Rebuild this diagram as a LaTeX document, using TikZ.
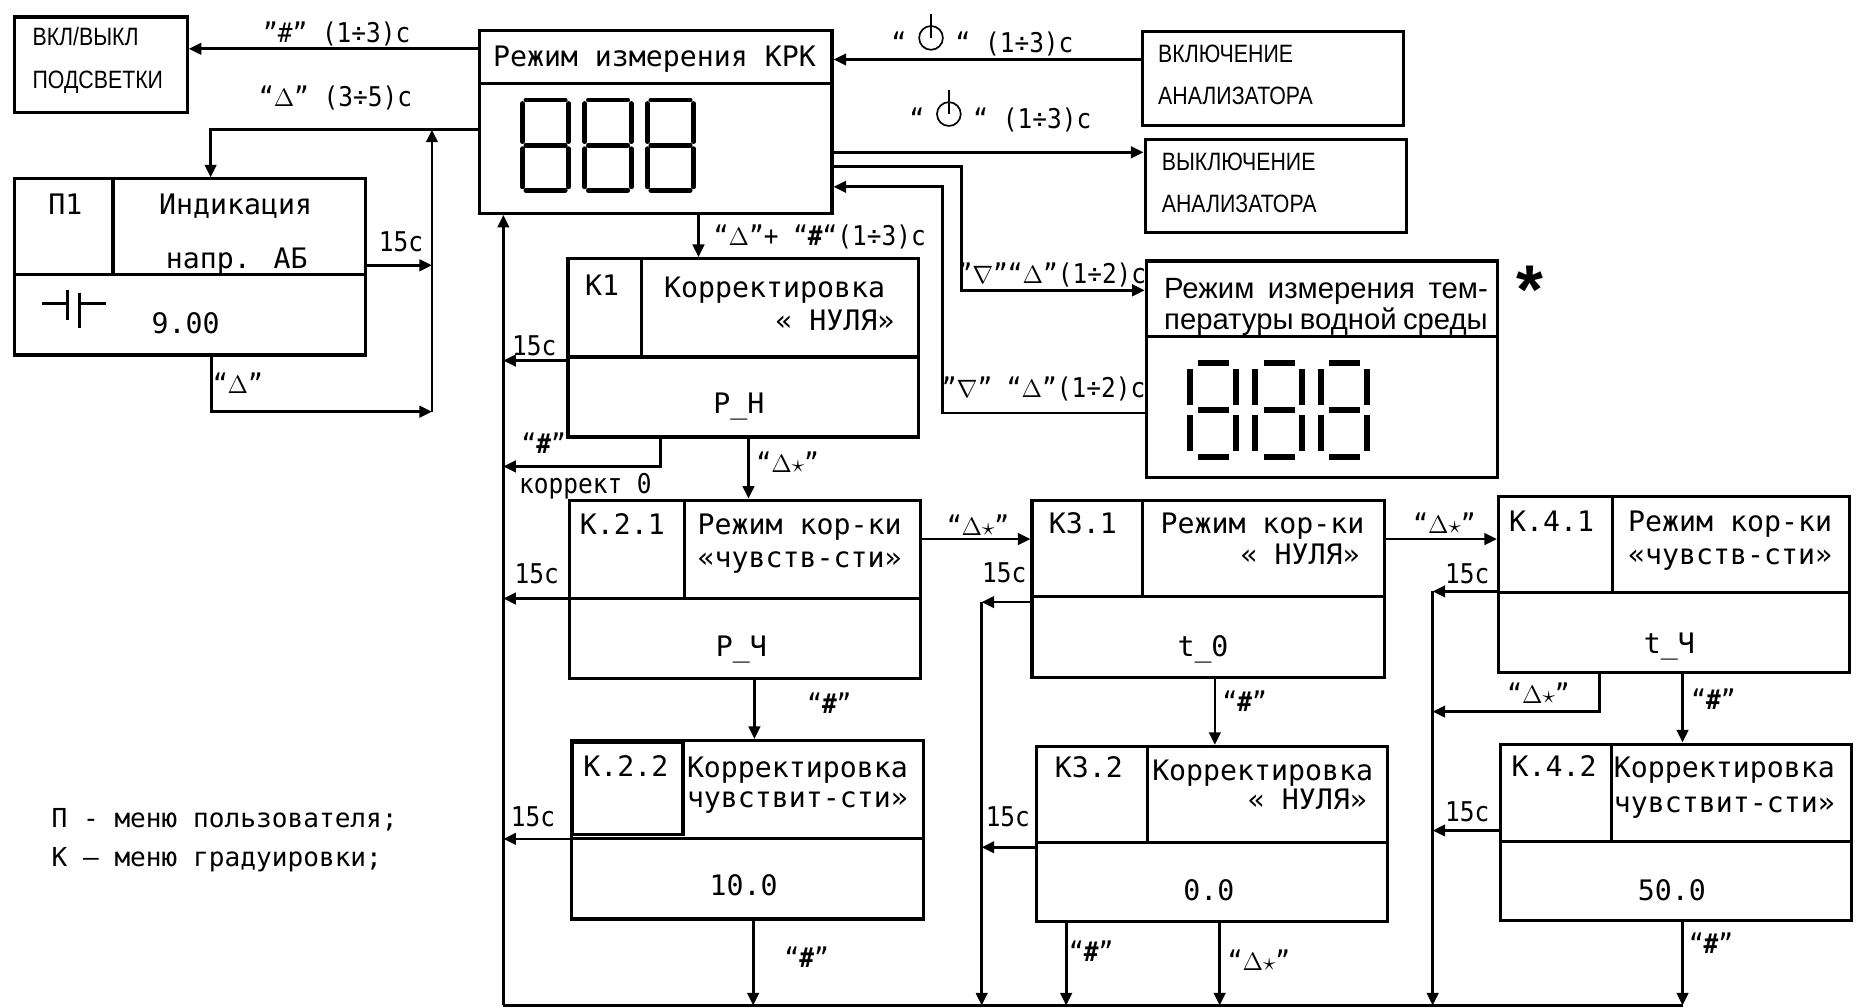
\documentclass[tikz,border=0pt]{standalone}
\usepackage{fontspec}
\setmainfont{DejaVu Sans Mono}
\newfontfamily\narrowfont[FakeStretch=0.85]{Liberation Sans}
\newfontfamily\lblfont[FakeStretch=0.9]{DejaVu Sans Mono}
\newfontfamily\starfont{Liberation Sans}
\usetikzlibrary{arrows.meta, positioning, calc}

\newcommand{\pwrsign}{\tikz[baseline=0pt, x=1cm, y=1cm, line width=0.8pt]{\draw (0,0.25) circle (0.2); \draw (0,0.25) -- (0,0.66);}}

\tikzset{
  menubox/.style={draw, line width=1.5pt, inner sep=0pt, anchor=north west},
  divline/.style={line width=1.5pt},
  wire/.style={line width=1.3pt},
  txt/.style={inner sep=0pt, text height=9.8pt, text depth=0pt, font=\fontsize{13.5}{16}\selectfont},
  lbl/.style={inner sep=0pt, text height=9.5pt, text depth=0pt, font=\lblfont\fontsize{13}{15}\selectfont},
  narrow/.style={inner sep=0pt, anchor=west, text height=8.6pt, text depth=0pt, font=\narrowfont\fontsize{12}{14}\selectfont},
  tempname/.style={inner sep=0pt, anchor=west, text height=10pt, text depth=0pt, font=\starfont\fontsize{14}{16}\selectfont},
  lcd/.style={line width=2.3pt, line cap=round},
  lcdtemp/.style={line width=2.8pt},
  bigdigit/.pic={
    \draw[lcd] (3,0) -- (36,0) (39,3) -- (39,35) (39,41) -- (39,73) (3,76) -- (36,76)
               (0,41) -- (0,73) (0,3) -- (0,35) (3,38) -- (36,38);
  },
  tempdigit/.pic={
    \draw[lcdtemp] (7,0) -- (33,0) (39,5) -- (39,35) (39,44) -- (39,74) (7,79) -- (33,79)
                   (0,44) -- (0,74) (0,5) -- (0,35) (7,39.5) -- (33,39.5);
  },
}

\begin{document}
\begin{tikzpicture}[x=0.02cm, y=-0.02cm, >={Triangle[length=6pt,width=5.5pt]}]
  \useasboundingbox (0,0) rectangle (1564,847.1);

  % main mode
  \node[menubox, minimum width=5.92cm, minimum height=3.08cm] (main) at (402,24) {};
  \draw[divline] (main.west |- 0,70) -- (main.east |- 0,70);
  \node[txt] (maintitle) at (550,47) {Режим измерения КРК};
  \foreach \i in {0,1,2} \pic at ({439+52.5*\i},84) {bigdigit};

  % backlight
  \node[menubox, minimum width=2.9cm, minimum height=1.6cm] (vkl) at (11,13) {};
  \node[narrow] (vkltop) at (27,31) {ВКЛ/ВЫКЛ};
  \node[narrow] (vklbot) at (27,67) {ПОДСВЕТКИ};

  % P1
  \node[menubox, minimum width=5.9cm, minimum height=2.96cm] (p1) at (11,149) {};
  \draw[divline] (p1.west |- 0,231) -- (p1.east |- 0,231);
  \draw[divline] (p1.north -| 95,0) -- (95,231);
  \node[txt] (p1code) at (55,172) {П1};
  \node[txt] (p1name) at (198,172) {Индикация};
  \node[txt] (p1sub) at (199,217) {напр. АБ};
  \node[txt] (p1val) at (156,272) {9.00};
  \draw[wire] (35,255) -- (57,255) (57,244) -- (57,269) (67,246) -- (67,276) (67,255) -- (89,255);

  % on / off
  \node[menubox, minimum width=4.38cm, minimum height=1.58cm] (on) at (959,25) {};
  \node[narrow] (ontop) at (973,45) {ВКЛЮЧЕНИЕ};
  \node[narrow] (onbot) at (973,80) {АНАЛИЗАТОРА};
  \node[menubox, minimum width=4.4cm, minimum height=1.56cm] (off) at (961,116) {};
  \node[narrow] (offtop) at (976,136) {ВЫКЛЮЧЕНИЕ};
  \node[narrow] (offbot) at (976,171) {АНАЛИЗАТОРА};

  % temperature mode
  \node[menubox, minimum width=5.9cm, minimum height=3.64cm] (temp) at (962,218) {};
  \draw[divline] (temp.west |- 0,283) -- (temp.east |- 0,283);
  \node[tempname] (temptop) at (978,242) {\makebox[5.44cm][s]{Режим измерения тем-}};
  \node[tempname] (tempbot) at (978,268) {\makebox[5.44cm][s]{пературы водной среды}};
  \foreach \i in {0,1,2} \pic at ({1000+55*\i},305) {tempdigit};
  \node[inner sep=0pt, anchor=north, font=\starfont\fontsize{33}{33}\bfseries] (star) at (1286,223) {*};

  % K1
  \node[menubox, minimum width=5.9cm, minimum height=3.0cm] (k1) at (476,216) {};
  \draw[divline] (k1.west |- 0,300) -- (k1.east |- 0,300);
  \draw[divline] (k1.north -| 539,0) -- (539,300);
  \node[txt] (k1code) at (506,240) {К1};
  \node[txt] (k1name) at (651,241) {Корректировка};
  \node[txt, anchor=east] (k1sub) at (752,269) {« НУЛЯ»};
  \node[txt] (k1val) at (621,339) {P\_H};

  % K2.1
  \node[menubox, minimum width=5.9cm, minimum height=3.0cm] (k21) at (477,419) {};
  \draw[divline] (k21.west |- 0,503) -- (k21.east |- 0,503);
  \draw[divline] (k21.north -| 575,0) -- (575,503);
  \node[txt] (k21code) at (523,441) {К.2.1};
  \node[txt] (k21name) at (672,441) {Режим кор-ки};
  \node[txt] (k21sub) at (672,468) {«чувств-сти»};
  \node[txt] (k21val) at (623,543) {P\_Ч};

  % K2.2
  \node[menubox, minimum width=5.92cm, minimum height=3.0cm] (k22) at (479,621) {};
  \draw[divline] (k22.west |- 0,705) -- (k22.east |- 0,705);
  \draw[divline] (481,624) rectangle (574,701);
  \node[txt] (k22code) at (526,644) {К.2.2};
  \node[txt, anchor=west] (k22name) at (577,645) {Корректировка};
  \node[txt, anchor=west] (k22sub) at (577,670) {чувствит-сти»};
  \node[txt] (k22val) at (625,744) {10.0};

  % K3.1
  \node[menubox, minimum width=5.92cm, minimum height=2.98cm] (k31) at (866,419) {};
  \draw[divline] (k31.west |- 0,501) -- (k31.east |- 0,501);
  \draw[divline] (k31.north -| 960,0) -- (960,501);
  \node[txt] (k31code) at (910,440) {К3.1};
  \node[txt] (k31name) at (1061,440) {Режим кор-ки};
  \node[txt, anchor=east] (k31sub) at (1143,466) {« НУЛЯ»};
  \node[txt] (k31val) at (1011,543) {t\_0};

  % K3.2
  \node[menubox, minimum width=5.9cm, minimum height=2.94cm] (k32) at (870,626) {};
  \draw[divline] (k32.west |- 0,708) -- (k32.east |- 0,708);
  \draw[divline] (k32.north -| 964,0) -- (964,708);
  \node[txt] (k32code) at (915,645) {К3.2};
  \node[txt, anchor=west] (k32name) at (968,647) {Корректировка};
  \node[txt, anchor=east] (k32sub) at (1149,672) {« НУЛЯ»};
  \node[txt] (k32val) at (1016,748) {0.0};

  % K4.1
  \node[menubox, minimum width=5.9cm, minimum height=2.96cm] (k41) at (1258,416) {};
  \draw[divline] (k41.west |- 0,498) -- (k41.east |- 0,498);
  \draw[divline] (k41.north -| 1355,0) -- (1355,498);
  \node[txt] (k41code) at (1304,438) {К.4.1};
  \node[txt] (k41name) at (1454,438) {Режим кор-ки};
  \node[txt] (k41sub) at (1454,466) {«чувств-сти»};
  \node[txt] (k41val) at (1403,541) {t\_Ч};

  % K4.2
  \node[menubox, minimum width=5.9cm, minimum height=2.96cm] (k42) at (1260,624) {};
  \draw[divline] (k42.west |- 0,707) -- (k42.east |- 0,707);
  \draw[divline] (k42.north -| 1354,0) -- (1354,707);
  \node[txt] (k42code) at (1306,644) {К.4.2};
  \node[txt, anchor=west] (k42name) at (1356,645) {Корректировка};
  \node[txt, anchor=west] (k42sub) at (1356,674) {чувствит-сти»};
  \node[txt] (k42val) at (1405,748) {50.0};

  % bus coordinates
  \coordinate (busA) at (423,845);
  \coordinate (busB) at (825,845);
  \coordinate (busC) at (1204,845);
  \coordinate (busD) at (1414,845);
  \coordinate (busP) at (363,346);

  % connectors
  \draw[wire, ->] (main.west |- 0,41) -- (vkl.east |- 0,41);
  \draw[wire, ->] (main.west |- 0,109) -| (p1.north -| 177,0);
  \draw[wire, ->] (p1.east |- 0,223) -- (busP |- 0,223);
  \draw[wire, ->] (p1.south -| 178,0) |- (busP);
  \draw[wire, ->] (busP) -- (busP |- 0,109);
  \draw[wire, ->] (on.west |- 0,50) -- (main.east |- 0,50);
  \draw[wire, ->] (main.east |- 0,128) -- (off.west |- 0,128);
  \draw[wire, ->] (main.east |- 0,140) -| (808,244) -- (temp.west |- 0,244);
  \draw[wire, ->] (temp.west |- 0,347) -| (792,157) -- (main.east |- 0,157);

  \draw[wire, ->] (main.south -| 587,0) -- (k1.north -| 587,0);
  \draw[wire, ->] (busA) -- (main.south -| busA);
  \draw[wire] (busA) -- (busD);
  \draw[wire, ->] (k1.west |- 0,303) -- (busA |- 0,303);
  \draw[wire, ->] (k1.south -| 555,0) |- (busA |- 0,392);
  \draw[wire, ->] (k1.south -| 629,0) -- (k21.north -| 629,0);
  \draw[wire, ->] (k21.west |- 0,503) -- (busA |- 0,503);
  \draw[wire, ->] (k21.east |- 0,453) -- (k31.west |- 0,453);
  \draw[wire, ->] (k21.south -| 634,0) -- (k22.north -| 634,0);
  \draw[wire, ->] (k22.west |- 0,705) -- (busA |- 0,705);
  \draw[wire, ->] (k22.south -| 633,0) -- (633,845);

  \draw[wire, ->] (busB |- 0,506) -- (busB);
  \draw[wire, ->] (k31.west |- 0,506) -- (busB |- 0,506);
  \draw[wire, ->] (k31.south -| 1021,0) -- (k32.north -| 1021,0);
  \draw[wire, ->] (k32.west |- 0,712) -- (busB |- 0,712);
  \draw[wire, ->] (k32.south -| 896,0) -- (896,845);
  \draw[wire, ->] (k32.south -| 1025,0) -- (1025,845);
  \draw[wire, ->] (k31.east |- 0,453) -- (k41.west |- 0,453);

  \draw[wire, ->] (busC |- 0,497) -- (busC);
  \draw[wire, ->] (k41.west |- 0,497) -- (busC |- 0,497);
  \draw[wire, ->] (k41.south -| 1344,0) |- (busC |- 0,598);
  \draw[wire, ->] (k41.south -| busD) -- (k42.north -| busD);
  \draw[wire, ->] (k42.west |- 0,698) -- (busC |- 0,698);
  \draw[wire, ->] (k42.south -| busD) -- (busD);

  % labels
  \node[lbl] (lA) at (283,27) {”\#” (1÷3)с};
  \node[lbl] (lB) at (282,81) {“$\Delta$” (3÷5)с};
  \node[lbl] (lC) at (337,203) {15с};
  \node[lbl] (lD) at (200,322) {“$\Delta$”};
  \node[lbl, anchor=west] (lE) at (749,36) {“\hspace{0.2cm}\pwrsign\hspace{0.2cm}“ (1÷3)с};
  \node[lbl, anchor=west] (lF) at (764,100) {“\hspace{0.2cm}\pwrsign\hspace{0.2cm}“ (1÷3)с};
  \node[lbl] (lG) at (689,198) {“$\Delta$”+ “\textbf{\#}“(1÷3)с};
  \node[lbl] (lH) at (884,230) {”$\nabla$”“$\Delta$”(1÷2)с};
  \node[lbl] (lI) at (877,326) {”$\nabla$” “$\Delta$”(1÷2)с};
  \node[lbl] (lJ) at (449,290) {15с};
  \node[lbl] (lK) at (457,373) {“\textbf{\#}”};
  \node[lbl] (lL) at (492,406) {коррект 0};
  \node[lbl] (lM) at (662,389) {“$\Delta\star$”};
  \node[lbl] (lN) at (451,482) {15с};
  \node[lbl] (lO) at (697,591) {“\textbf{\#}”};
  \node[lbl] (lP) at (448,686) {15с};
  \node[lbl] (lQ) at (678,805) {“\textbf{\#}”};
  \node[lbl] (lR) at (822,442) {“$\Delta\star$”};
  \node[lbl] (lS) at (844,481) {15с};
  \node[lbl] (lT) at (1046,590) {“\textbf{\#}”};
  \node[lbl] (lU) at (847,686) {15с};
  \node[lbl] (lV) at (917,800) {“\textbf{\#}”};
  \node[lbl] (lW) at (1058,807) {“$\Delta\star$”};
  \node[lbl] (lX) at (1214,440) {“$\Delta\star$”};
  \node[lbl] (lY) at (1233,482) {15с};
  \node[lbl] (lZ) at (1293,583) {“$\Delta\star$”};
  \node[lbl] (la) at (1440,588) {“\textbf{\#}”};
  \node[lbl] (lb) at (1233,682) {15с};
  \node[lbl] (lc) at (1438,793) {“\textbf{\#}”};

  % legend
  \node[inner sep=0pt, anchor=west, align=left, font=\fontsize{12.5}{18.7}\selectfont] (legend) at (43,706)
    {П - меню пользователя;\\К – меню градуировки;};
\end{tikzpicture}
\end{document}
